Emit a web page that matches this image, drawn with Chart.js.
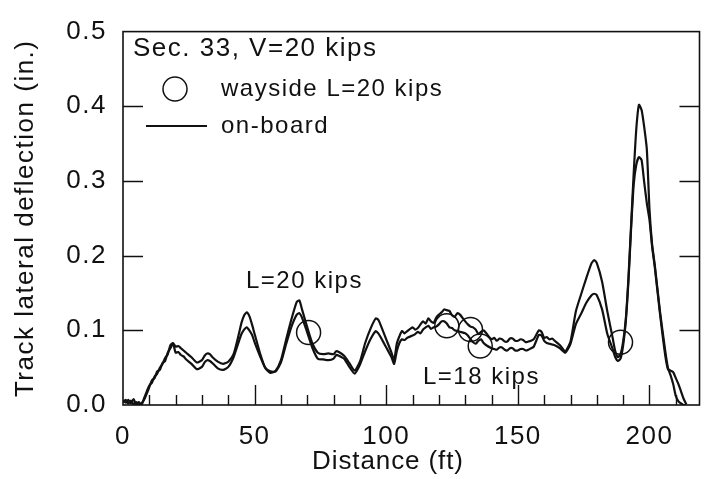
<!DOCTYPE html>
<html>
<head>
<meta charset="utf-8">
<script src="https://cdn.jsdelivr.net/npm/chart.js@4.4.1/dist/chart.umd.min.js"></script>
<style>
  html, body { margin: 0; padding: 0; background: #fff; }
  #wrap { width: 713px; height: 479px; position: relative; }
</style>
</head>
<body>
<div id="wrap"><canvas id="c"></canvas></div>
<script>
const INK  = '#111';
const FONT = "'Liberation Sans', Arial, Helvetica, sans-serif";

// distance (ft)
const dist = [
  0, 1, 2, 3, 4, 5, 6, 7, 8, 9, 10, 11, 12, 13, 14, 15, 16, 17, 18, 19,
  20, 21, 22, 23, 24, 26, 28, 30, 31, 32, 33, 34, 36, 38, 40, 42, 44, 45, 46, 47,
  48, 49, 50, 52, 54, 56, 58, 60, 62, 64, 66, 67, 68, 70, 72, 74, 76, 78, 80, 81,
  82, 84, 86, 88, 90, 92, 94, 96, 97, 98, 100, 102, 103, 104, 105, 106, 107, 108, 110, 111,
  112, 113, 114, 115, 116, 117, 118, 119, 120, 121, 122, 123, 124, 125, 126, 127, 128, 130, 131, 132,
  133, 134, 135, 136, 137, 138, 140, 141, 142, 143, 144, 145, 146, 147, 148, 149, 150, 151, 152, 153,
  154, 155, 156, 157, 158, 159, 160, 161, 162, 163, 164, 166, 168, 170, 172, 174, 176, 178, 179, 180,
  182, 184, 186, 187, 188, 189, 190, 191, 192, 193, 194, 195, 196, 197, 198, 199, 200, 201, 202, 204,
  206, 207, 208, 209, 210, 211, 212, 213, 214
];

// upper trace (in.)
const traceA = [
  .006, .003, .007, .002, .008, .001, .004, .000, .009, .018, .026, .030, .038, .042, .050, .055, .063, .068, .080, .083,
  .078, .079, .076, .073, .070, .064, .057, .060, .066, .069, .068, .064, .058, .055, .058, .068, .095, .110, .120, .124,
  .119, .108, .095, .070, .050, .043, .046, .060, .088, .115, .138, .140, .128, .104, .082, .070, .068, .069, .068, .072,
  .071, .066, .056, .046, .058, .083, .102, .116, .114, .106, .088, .070, .060, .082, .092, .099, .096, .099, .104, .101,
  .103, .108, .112, .109, .116, .112, .110, .117, .121, .124, .128, .127, .126, .120, .118, .123, .121, .112, .108, .105,
  .104, .101, .095, .098, .100, .096, .088, .090, .086, .089, .088, .085, .085, .089, .089, .086, .086, .088, .087, .084,
  .085, .086, .088, .094, .100, .098, .090, .091, .088, .089, .086, .080, .072, .085, .125, .148, .170, .190, .194, .190,
  .165, .125, .090, .072, .064, .068, .085, .115, .170, .240, .310, .370, .402, .395, .372, .342, .262, .215, .188, .125,
  .072, .050, .040, .028, .012, .005, .002, .000, .000
];

// lower trace (in.)
const traceB = [
  .004, .007, .002, .006, .001, .004, .000, .002, .007, .015, .024, .033, .036, .045, .047, .056, .059, .070, .076, .082,
  .070, .071, .067, .065, .061, .055, .048, .051, .057, .060, .059, .056, .049, .047, .051, .064, .085, .095, .101, .104,
  .100, .094, .084, .066, .050, .045, .045, .057, .082, .105, .121, .123, .117, .097, .076, .062, .061, .060, .062, .067,
  .066, .062, .051, .042, .054, .072, .088, .099, .096, .090, .077, .064, .055, .072, .083, .088, .087, .090, .093, .095,
  .098, .096, .101, .104, .106, .102, .104, .105, .108, .112, .112, .109, .104, .103, .100, .099, .098, .096, .093, .088,
  .084, .082, .086, .088, .083, .080, .076, .075, .074, .077, .077, .074, .073, .076, .076, .073, .073, .075, .075, .073,
  .074, .076, .078, .086, .094, .093, .086, .083, .082, .081, .080, .076, .070, .082, .108, .122, .137, .147, .149, .147,
  .128, .095, .075, .064, .059, .062, .080, .112, .165, .235, .295, .322, .332, .328, .298, .270, .248, .212, .185, .122,
  .066, .048, .046, .044, .036, .028, .018, .008, .001
];

// wayside gauge readings
const waysideDist = [70.5, 123, 132, 135.7, 189];
const waysideVal  = [0.097, 0.106, 0.101, 0.079, 0.084];

const xTicksMinor = [10, 20, 30, 40, 50, 60, 70, 80, 90, 100, 110, 120, 130, 140, 150, 160, 170, 180, 190, 200, 210];
const yTicksInner = [0.1, 0.2, 0.3, 0.4];

const toXY = (xs, ys) => xs.map((x, i) => ({ x, y: ys[i] }));

// frame, inward ticks, legend and notes
const decor = {
  id: 'decor',
  beforeDraw(chart) {
    chart.ctx.letterSpacing = '1.5px';
  },
  afterDraw(chart) {
    const { ctx, chartArea: a, scales } = chart;
    const xs = scales.x, ys = scales.y;
    ctx.save();
    ctx.strokeStyle = INK;
    ctx.lineWidth = 1.6;
    ctx.strokeRect(a.left, a.top, a.right - a.left, a.bottom - a.top);

    ctx.lineWidth = 1.4;
    ctx.beginPath();
    yTicksInner.forEach((v) => {
      const py = Math.round(ys.getPixelForValue(v)) + 0.5;
      ctx.moveTo(a.left, py);  ctx.lineTo(a.left + 20, py);
      ctx.moveTo(a.right, py); ctx.lineTo(a.right - 20, py);
    });
    xTicksMinor.forEach((v) => {
      const px = Math.round(xs.getPixelForValue(v)) + 0.5;
      const len = v % 50 === 0 ? 20 : 10;
      ctx.moveTo(px, a.bottom); ctx.lineTo(px, a.bottom - len);
    });
    ctx.stroke();

    // legend
    ctx.fillStyle = INK;
    ctx.textBaseline = 'middle';
    ctx.textAlign = 'left';
    ctx.font = `26px ${FONT}`;
    ctx.fillText('Sec. 33, V=20 kips', 133, 49);
    ctx.font = `24px ${FONT}`;
    ctx.beginPath();
    ctx.lineWidth = 1.5;
    ctx.arc(175, 89, 12, 0, Math.PI * 2);
    ctx.stroke();
    ctx.fillText('wayside L=20 kips', 221, 89);
    ctx.beginPath();
    ctx.lineWidth = 1.8;
    ctx.moveTo(146, 126); ctx.lineTo(207, 126);
    ctx.stroke();
    ctx.fillText('on-board', 221, 126);

    // notes
    ctx.fillText('L=20 kips', 246, 281);
    ctx.fillText('L=18 kips', 423, 377);

    // x axis title, set left of centre as in the original
    ctx.letterSpacing = '0.9px';
    ctx.font = `26px ${FONT}`;
    ctx.textAlign = 'center';
    ctx.fillText('Distance (ft)', 388, 462);
    ctx.restore();
  },
};

new Chart(document.getElementById('c'), {
  type: 'line',
  data: {
    datasets: [
      {
        label: 'on-board upper',
        data: toXY(dist, traceA),
        borderColor: INK,
        borderWidth: 2.2,
        pointRadius: 0,
        tension: 0.2,
        fill: false,
      },
      {
        label: 'on-board lower',
        data: toXY(dist, traceB),
        borderColor: INK,
        borderWidth: 2.2,
        pointRadius: 0,
        tension: 0.2,
        fill: false,
      },
      {
        type: 'scatter',
        label: 'wayside L=20 kips',
        data: toXY(waysideDist, waysideVal),
        borderColor: INK,
        backgroundColor: 'transparent',
        borderWidth: 1.5,
        pointRadius: 12,
        pointStyle: 'circle',
        showLine: false,
      },
    ],
  },
  options: {
    responsive: true,
    maintainAspectRatio: false,
    animation: false,
    events: [],
    layout: { padding: { top: 18, right: 6, left: 0, bottom: 0 } },
    plugins: { legend: { display: false }, tooltip: { enabled: false } },
    scales: {
      x: {
        type: 'linear',
        min: 0,
        max: 219,
        afterFit: (s) => { s.height = 74; },
        grid: { display: false, drawTicks: false },
        border: { display: false },
        ticks: {
          stepSize: 50,
          includeBounds: false,
          padding: 16,
          maxRotation: 0,
          color: INK,
          font: { family: FONT, size: 26 },
        },
        title: { display: false },
      },
      y: {
        min: 0,
        max: 0.5,
        afterFit: (s) => { s.width = 123; },
        grid: { display: false, drawTicks: false },
        border: { display: false },
        ticks: {
          stepSize: 0.1,
          padding: 16,
          color: INK,
          font: { family: FONT, size: 26 },
          callback: (v) => v.toFixed(1),
        },
        title: {
          display: true,
          text: 'Track lateral deflection (in.)',
          color: INK,
          font: { family: FONT, size: 26 },
          padding: { top: 10, bottom: 0 },
        },
      },
    },
  },
  plugins: [decor],
});
</script>
</body>
</html>
